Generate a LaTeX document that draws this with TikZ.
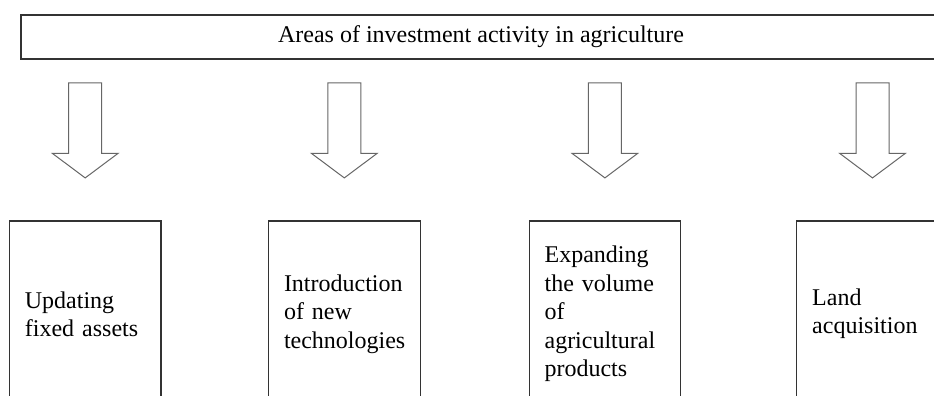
\documentclass[tikz,border=0pt]{standalone}
\usepackage{fontspec}
\setmainfont{Liberation Serif}
\usetikzlibrary{positioning,calc}

\tikzset{
  headbox/.style={draw=black!80, line width=0.6pt, minimum width=460pt,
                  minimum height=22pt, inner sep=0pt},
  cellbox/.style={draw=black!80, line width=0.6pt, minimum width=75.8pt,
                  minimum height=93pt, text width=60.3pt, inner xsep=7.75pt,
                  align=left, font=\fontsize{12}{14.2}\selectfont},
  arrowline/.style={draw=black!60, line width=0.5pt, fill=white, line join=miter},
  pics/downarrow/.style={code={
    % hollow block arrow, top edge at the origin
    \draw[arrowline] (-16.5,0) -- (16.5,0) -- (16.5,70.5) -- (32.8,70.5)
      -- (0,95) -- (-32.8,70.5) -- (-16.5,70.5) -- cycle;
  }},
}

\begin{document}
\begin{tikzpicture}[x=0.5pt,y=-0.5pt,font=\fontsize{12}{14.2}\selectfont]
  \useasboundingbox (0,0) rectangle (934,396);
  \clip (0,0) rectangle (934,396);
  % heading bar, running off the right edge
  \node[headbox] (head) at (481,37) {Areas of investment activity in agriculture};
  % the four directions, open at the bottom
  \node[cellbox] (fixed) at (85.2,314) {Updating\\fixed assets};
  \node[cellbox] (tech)  at (344.3,314) {Introduction\\of new\\technologies};
  \node[cellbox] (volume) at (604.9,314) {Expanding\\the volume\\of\\agricultural\\products};
  \node[cellbox] (land)  at (872.5,314) {Land\\acquisition};
  % block arrows from the heading down to each box
  \foreach \c in {fixed,tech,volume,land}
    \pic at ($(head.south -| \c.north)+(0,23.3)$) {downarrow};
\end{tikzpicture}
\end{document}
